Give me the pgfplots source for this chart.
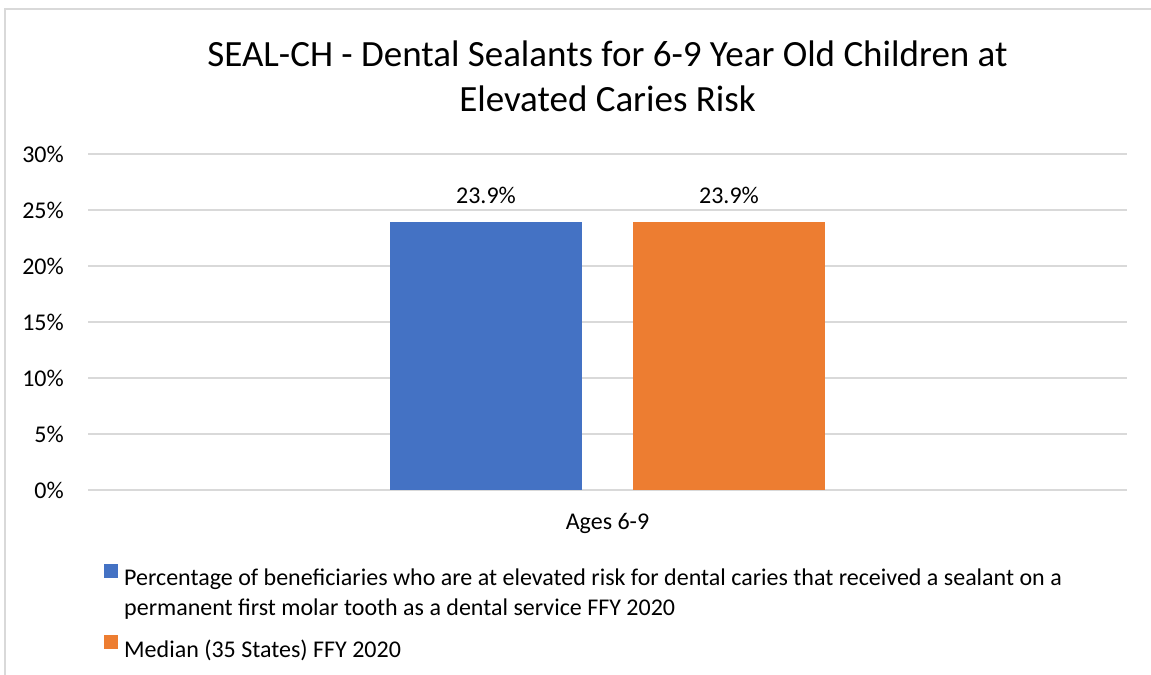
\documentclass[border=0pt]{standalone}
\usepackage{pgfplots}
\pgfplotsset{compat=1.18}
\usepackage{fontspec}
\setmainfont{Carlito}

\definecolor{barblue}{HTML}{4472C4}
\definecolor{barorange}{HTML}{ED7D31}
\definecolor{gridgray}{HTML}{D9D9D9}

\begin{document}
\begin{tikzpicture}
% page is 1151 x 675 bp, axis box lower left at (0,0)
\path[use as bounding box] (-88bp,-185bp) rectangle (1063bp,490bp);
\draw[gridgray, line width=1.2bp] (-83bp,-185bp) -- (-83bp,481bp) -- (1063bp,481bp);

\node[font=\fontsize{37bp}{45bp}\selectfont, anchor=base, inner sep=0pt] at (519.5bp,423bp)
  {SEAL-CH - Dental Sealants for 6-9 Year Old Children at};
\node[font=\fontsize{37bp}{45bp}\selectfont, anchor=base, inner sep=0pt] at (519.5bp,378bp)
  {Elevated Caries Risk};

\begin{axis}[
    at={(0,0)}, anchor=south west,
    scale only axis,
    width=1039bp, height=336bp,
    ybar=51bp,
    bar width=192bp,
    xmin=-1, xmax=1,
    ymin=0, ymax=30,
    xtick={0},
    xticklabels={Ages 6-9},
    ytick={0,5,10,15,20,25,30},
    yticklabels={0\%,5\%,10\%,15\%,20\%,25\%,30\%},
    major tick length=0pt,
    axis line style={draw=none},
    ymajorgrids,
    grid style={gridgray, line width=1.2bp},
    tick label style={font=\fontsize{24bp}{29bp}\selectfont},
    yticklabel style={inner sep=0pt, xshift=-24bp},
    xticklabel style={anchor=base, inner sep=0pt, yshift=-39bp},
    /pgf/number format/assume math mode=true,
    nodes near coords={\pgfmathprintnumber[fixed,fixed zerofill,precision=1]{\pgfplotspointmeta}\%},
    every node near coord/.append style={font=\fontsize{24bp}{29bp}\selectfont, anchor=base, inner sep=0pt, yshift=19bp},
    legend cell align=left,
    legend image code/.code={\path[#1] (0bp,0bp) rectangle (14bp,14bp);},
    legend style={at={(axis description cs:0,0)}, anchor=north west,
        xshift=16bp, yshift=-74bp, draw=none, fill=none, inner sep=0pt,
        column sep=6bp, row sep=48bp,
        nodes={inner sep=0pt, font=\fontsize{24bp}{30bp}\selectfont}},
]
\addplot[fill=barblue, draw=none] coordinates {(0,23.9)};
\addplot[fill=barorange, draw=none] coordinates {(0,23.9)};
\addlegendentry{\parbox[t]{1000bp}{\raggedright\fontsize{24bp}{30bp}\selectfont Percentage of beneficiaries who are at elevated risk for dental caries that received a sealant on a\\permanent first molar tooth as a dental service FFY 2020}}
\addlegendentry{Median (35 States) FFY 2020}
\end{axis}
\end{tikzpicture}
\end{document}
